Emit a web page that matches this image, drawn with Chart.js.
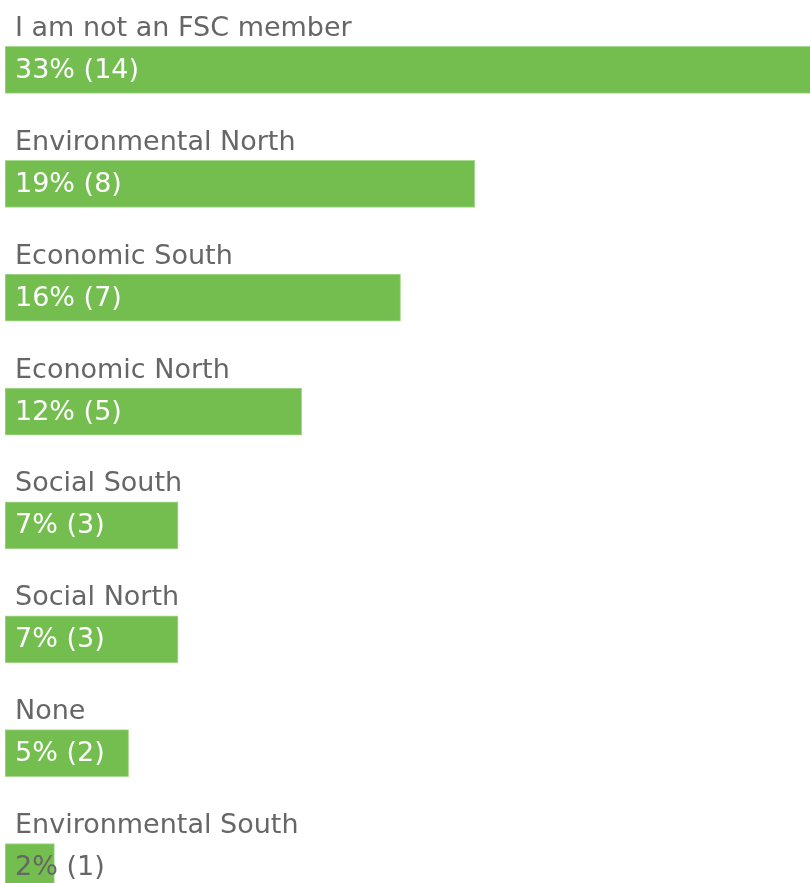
<!DOCTYPE html>
<html>
<head>
<meta charset="utf-8">
<script src="https://cdn.jsdelivr.net/npm/chart.js@4/dist/chart.umd.min.js"></script>
<style>
html,body{margin:0;padding:0;background:#fff;overflow:hidden;}
#wrap{position:relative;width:810px;height:924px;}
</style>
</head>
<body>
<div id="wrap"><canvas id="c"></canvas></div>
<script>
const categories = ["I am not an FSC member","Environmental North","Economic South","Economic North","Social South","Social North","None","Environmental South"];
const percents = [33,19,16,12,7,7,5,2];
const counts = [14,8,7,5,3,3,2,1];

const labelPlugin = {
  id: 'labelPlugin',
  afterDatasetsDraw(chart) {
    const ctx = chart.ctx;
    const meta = chart.getDatasetMeta(0);
    ctx.save();
    ctx.font = '27px "DejaVu Sans"';
    ctx.textAlign = 'left';
    meta.data.forEach((bar, i) => {
      const h = bar.height;
      const top = bar.y - h / 2;
      ctx.fillStyle = '#666666';
      ctx.textBaseline = 'alphabetic';
      ctx.fillText(categories[i], bar.base + 10, top - 10.5);
      const txt = percents[i] + '% (' + counts[i] + ')';
      const w = ctx.measureText(txt).width;
      const fits = (bar.x - bar.base) > w + 20;
      ctx.fillStyle = fits ? '#ffffff' : '#666666';
      ctx.textBaseline = 'middle';
      ctx.fillText(txt, bar.base + 10, bar.y + 1);
    });
    ctx.restore();
  }
};

new Chart(document.getElementById('c'), {
  type: 'bar',
  data: {
    labels: categories,
    datasets: [{
      data: percents,
      backgroundColor: '#73be4f',
      borderColor: '#a9d992',
      borderWidth: 1,
      barThickness: 47,
      borderSkipped: false
    }]
  },
  options: {
    indexAxis: 'y',
    responsive: true,
    maintainAspectRatio: false,
    animation: false,
    layout: { padding: { left: 5, right: 0, top: 13, bottom: 0 } },
    plugins: { legend: { display: false }, tooltip: { enabled: false } },
    scales: {
      x: { display: false, min: 0, max: 32.56 },
      y: { display: false, offset: true }
    }
  },
  plugins: [labelPlugin]
});
</script>
</body>
</html>
